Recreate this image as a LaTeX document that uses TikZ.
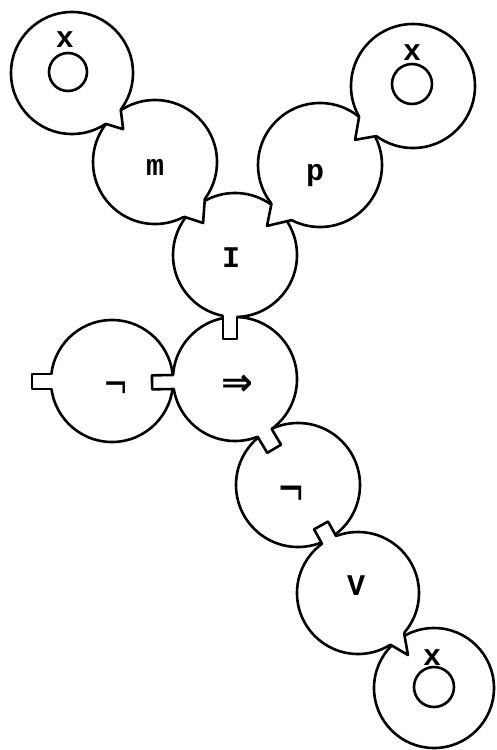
\documentclass[tikz,border=0pt]{standalone}
\usepackage{fontspec}
\usepackage{graphicx}
\usetikzlibrary{calc}
\newfontfamily\twfont{Liberation Mono}
\newfontfamily\dvfont{DejaVu Sans}
\tikzset{
  ln/.style={line width=2.6pt, line cap=round, line join=round},
  lbl/.style={font=\twfont\bfseries\fontsize{30}{30}\selectfont, inner sep=0pt},
  sym/.style={font=\dvfont\fontsize{30}{30}\selectfont, inner sep=0pt},
}
% tab geometry helpers
\newcommand\tabsetup[3]{%
  \coordinate (tP) at ($(#1)!#3pt!(#2)$);
  \coordinate (tU) at ($(tP)!1pt!(#2)$);
  \coordinate (tV) at ($(tP)!1pt!90:(#2)$);
  \coordinate (eU) at ($(tU)-(tP)$);
  \coordinate (eV) at ($(tV)-(tP)$);
}
% pointed tab: owner, target, owner radius, lateral offset, half width, depth, tip skew
\newcommand\tritab[7]{%
  \tabsetup{#1}{#2}{#3}
  \pgfmathsetmacro\dA{(#3)-sqrt((#3)*(#3)-(#4+#5)*(#4+#5))}
  \pgfmathsetmacro\dC{(#3)-sqrt((#3)*(#3)-(#4-#5)*(#4-#5))}
  \coordinate (tA) at ($(tP)+{#4+#5}*(eV)-{\dA}*(eU)$);
  \coordinate (tC) at ($(tP)+{#4-#5}*(eV)-{\dC}*(eU)$);
  \coordinate (tB) at ($(tP)+{#4+#7}*(eV)+{#6}*(eU)$);
  \coordinate (tAb) at ($(tA)-{5}*(eU)$);
  \coordinate (tCb) at ($(tC)-{5}*(eU)$);
  \fill[white] (tAb) -- (tA) -- (tB) -- (tC) -- (tCb) -- cycle;
  \draw[ln] (tA) -- (tB) -- (tC);
}
% rectangular tab: owner, target, owner radius, lateral offset, half width, depth
\newcommand\recttab[6]{%
  \tabsetup{#1}{#2}{#3}
  \pgfmathsetmacro\dA{(#3)-sqrt((#3)*(#3)-(#4+#5)*(#4+#5))}
  \pgfmathsetmacro\dC{(#3)-sqrt((#3)*(#3)-(#4-#5)*(#4-#5))}
  \coordinate (tA) at ($(tP)+{#4+#5}*(eV)-{\dA}*(eU)$);
  \coordinate (tC) at ($(tP)+{#4-#5}*(eV)-{\dC}*(eU)$);
  \coordinate (tA2) at ($(tP)+{#4+#5}*(eV)+{#6}*(eU)$);
  \coordinate (tC2) at ($(tP)+{#4-#5}*(eV)+{#6}*(eU)$);
  \coordinate (tAb) at ($(tA)-{5}*(eU)$);
  \coordinate (tCb) at ($(tC)-{5}*(eU)$);
  \fill[white] (tAb) -- (tA) -- (tA2) -- (tC2) -- (tC) -- (tCb) -- cycle;
  \draw[ln] (tA) -- (tA2) -- (tC2) -- (tC);
}
\begin{document}
\begin{tikzpicture}[x=1pt, y=-1pt]
\useasboundingbox (0,0) rectangle (496,750);
\fill[white] (0,0) rectangle (496,750);
% circle centres
\coordinate (xTL) at (72,73);
\coordinate (m)   at (155,162);
\coordinate (p)   at (320,165);
\coordinate (xTR) at (413,86);
\coordinate (I)   at (235,255);
\coordinate (imp) at (235,379);
\coordinate (nL)  at (112,381);
\coordinate (nLx) at (0,381);
\coordinate (nB)  at (298,485);
\coordinate (V)   at (358,593);
\coordinate (xB)  at (434,688);
% circles
\draw[ln] (xTL) circle[radius=61pt];
\draw[ln] (m)   circle[radius=62pt];
\draw[ln] (p)   circle[radius=62pt];
\draw[ln] (xTR) circle[radius=62pt];
\draw[ln] (I)   circle[radius=62pt];
\draw[ln] (imp) circle[radius=62pt];
\draw[ln] (nL)  circle[radius=61pt];
\draw[ln] (nB)  circle[radius=62pt];
\draw[ln] (V)   circle[radius=61pt];
\draw[ln] (xB)  circle[radius=60pt];
% inner rings
\draw[ln] (68,72)  circle[radius=19pt];
\draw[ln] (412,84) circle[radius=20pt];
\draw[ln] (434,687) circle[radius=20pt];
% connecting tabs
\tritab{xTL}{m}{61}{0.3}{10.3}{15}{-1.2}
\tritab{xTR}{p}{62}{1.5}{13}{17}{2}
\tritab{m}{I}{62}{0}{13.7}{15.6}{-3.3}
\tritab{p}{I}{62}{4.2}{13}{18.7}{-0.9}
\tritab{V}{xB}{61}{2}{9}{18.6}{-1.7}
\recttab{I}{imp}{62}{-5}{7}{22}
\recttab{imp}{nL}{62}{2}{7}{21}
\recttab{nL}{nLx}{61}{0.5}{7.5}{19}
\recttab{imp}{nB}{62}{-2}{8}{18}
\recttab{V}{nB}{61}{-0.5}{8}{16}
% labels
\node[lbl, anchor=base] (LxTL) at (65,47) {x};
\node[lbl, anchor=base] (Lm)   at (155,175) {m};
\node[lbl, anchor=base] (Lp)   at (315,180) {p};
\node[lbl, anchor=base] (LxTR) at (412,60) {x};
\node[lbl, anchor=base] (LI)   at (231,267) {I};
\node[sym, font=\dvfont\bfseries\fontsize{38}{38}\selectfont] (Limp) at (237,385) {⇒};
\node[sym] (LnL)  at (116,391) {\scalebox{1}[1.4]{¬}};
\node[sym] (LnB)  at (291,497) {\scalebox{1.1}[1.7]{¬}};
\node[lbl, anchor=base] (LV)   at (356,595) {V};
\node[lbl, anchor=base] (LxB)  at (432,665) {x};
\end{tikzpicture}
\end{document}
